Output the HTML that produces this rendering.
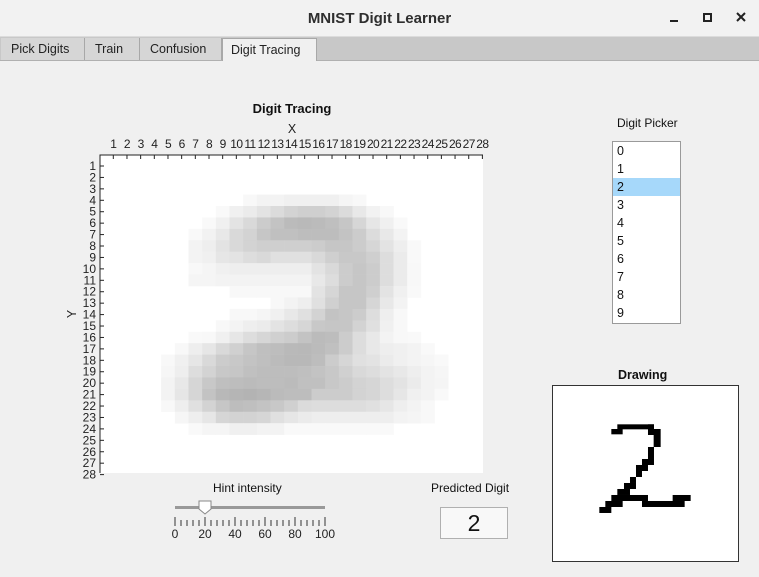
<!DOCTYPE html>
<html><head><meta charset="utf-8">
<style>
*{box-sizing:border-box}
body{margin:0;width:759px;height:577px;overflow:hidden;background:#f0f0f0;font-family:"Liberation Sans",sans-serif;position:relative}
.abs{position:absolute}
#titlebar{left:0;top:0;width:759px;height:37px;background:#f2f2f2;border-bottom:1px solid #dcdcdc}
#title{left:0;width:759px;top:10px;text-align:center;font-size:15px;font-weight:bold;color:#2e2e2e}
#tabstrip{left:0;top:37px;width:759px;height:24px;background:#c8c8c8;border-bottom:1px solid #b0b0b0}
.tab{top:38px;height:22px;font-size:12.5px;color:#222;padding-top:4px;padding-left:10px;border-right:1px solid #a8a8a8;background:#d6d6d6}
.tab.active{background:#f0f0f0;height:23px;border:1px solid #a8a8a8;border-bottom:none}
.lbl{font-size:12px;color:#111}
#listbox{left:612px;top:141px;width:69px;height:183px;background:#fff;border:1px solid #9a9a9a}
.item{position:absolute;left:0;width:67px;height:18px;font-size:12.5px;padding-left:4px;padding-top:2px;color:#111}
.item.sel{background:#a6d8fa}
#pred{left:440px;top:507px;width:68px;height:32px;background:#f8f8f8;border:1px solid #b0b0b0;text-align:center;font-size:23px;padding-top:2px;color:#111}
#drawbox{left:552px;top:385px;width:187px;height:177px;background:#fff;border:1px solid #333}
</style></head>
<body>
<div class="abs" id="titlebar"></div>
<div class="abs" id="title">MNIST Digit Learner</div>
<svg class="abs" style="left:665px;top:8px" width="90" height="20">
 <rect x="5" y="12" width="8" height="2" fill="#222"/>
 <rect x="39" y="6" width="7" height="7" fill="none" stroke="#222" stroke-width="2"/>
 <path d="M72 5 L80 13 M80 5 L72 13" stroke="#222" stroke-width="2"/>
</svg>
<div class="abs" id="tabstrip"></div>
<div class="abs tab" style="left:1px;width:84px">Pick Digits</div>
<div class="abs tab" style="left:85px;width:55px">Train</div>
<div class="abs tab" style="left:140px;width:82px">Confusion</div>
<div class="abs tab active" style="left:222px;width:95px;padding-left:8px">Digit Tracing</div>

<svg class="abs" style="left:0;top:0" width="759" height="577" id="chart">
 <text x="292" y="113" text-anchor="middle" font-size="13" font-weight="bold" fill="#111">Digit Tracing</text>
 <text x="292" y="133" text-anchor="middle" font-size="12.5" fill="#222">X</text>
 <text x="76" y="314" text-anchor="middle" font-size="12.5" fill="#222" transform="rotate(-90 76 314)">Y</text>
 <rect x="100" y="155" width="383" height="318" fill="#fff"/>
 <g id="cells"></g>
 <g id="ticks"></g>
 <path d="M100 473 L100 155 L483 155" fill="none" stroke="#222" stroke-width="1"/>
</svg>

<div class="abs lbl" style="left:617px;top:116px">Digit Picker</div>
<div class="abs" id="listbox">
 <div class="item" style="top:0">0</div><div class="item" style="top:18px">1</div>
 <div class="item sel" style="top:36px">2</div>
 <div class="item" style="top:54px">3</div><div class="item" style="top:72px">4</div>
 <div class="item" style="top:90px">5</div><div class="item" style="top:108px">6</div>
 <div class="item" style="top:126px">7</div><div class="item" style="top:144px">8</div>
 <div class="item" style="top:162px">9</div>
</div>

<div class="abs" style="left:618px;top:368px;font-size:12.5px;font-weight:bold;color:#111">Drawing</div>
<div class="abs" id="drawbox">
<svg width="187" height="177" style="position:absolute;left:-1px;top:-1px">
<g transform="scale(0.3333)" fill="#000">
 <rect x="178" y="132" width="34" height="16"/>
 <rect x="196" y="118" width="110" height="15"/>
 <rect x="288" y="118" width="18" height="32"/>
 <rect x="305" y="132" width="21" height="54"/>
 <rect x="288" y="186" width="18" height="36"/>
 <rect x="270" y="222" width="36" height="18"/>
 <rect x="252" y="240" width="36" height="18"/>
 <rect x="252" y="258" width="18" height="18"/>
 <rect x="234" y="276" width="18" height="18"/>
 <rect x="216" y="294" width="36" height="18"/>
 <rect x="196" y="312" width="38" height="18"/>
 <rect x="178" y="330" width="110" height="18"/>
 <rect x="160" y="348" width="52" height="18"/>
 <rect x="142" y="366" width="36" height="18"/>
 <rect x="270" y="348" width="128" height="18"/>
 <rect x="362" y="330" width="54" height="18"/>
</g></svg></div>

<div class="abs lbl" style="left:213px;top:481px">Hint intensity</div>
<svg class="abs" style="left:165px;top:498px" width="175" height="45" id="slider">
 <rect x="10" y="8" width="150" height="3" fill="#999"/>
 <path d="M34 3 L46 3 L46 11 L40 16 L34 11 Z" fill="#fff" stroke="#888"/>
 <g id="sticks"></g>
</svg>

<div class="abs lbl" style="left:431px;top:481px">Predicted Digit</div>
<div class="abs" id="pred">2</div>

<script>
// heatmap data: per row (1..28) the first painted column and gray values (0-255)
const rowStart = [0,0,0,11,9,8,7,7,7,7,7,10,13,10,9,7,6,5,5,5,5,5,6,7,0,0,0,0];
const rowGray = [
 [],[],[],
 [0xf8,0xf3,0xf3,0xf0,0xf0,0xf0,0xf0,0xf5,0xf8],
 [0xf9,0xf0,0xeb,0xe3,0xdb,0xd3,0xcf,0xcf,0xd3,0xdb,0xe8,0xf2,0xf8],
 [0xf9,0xf0,0xe3,0xd9,0xcc,0xc3,0xbb,0xb9,0xbb,0xbf,0xc6,0xd6,0xe6,0xf0,0xf9],
 [0xf9,0xf2,0xe8,0xd9,0xd3,0xc6,0xc0,0xc0,0xbd,0xbd,0xbd,0xc3,0xcc,0xdc,0xe8,0xf3],
 [0xf3,0xee,0xe3,0xd9,0xd3,0xcf,0xcf,0xcf,0xcf,0xcc,0xc6,0xc6,0xcc,0xd6,0xe3,0xee,0xf9],
 [0xf3,0xf0,0xe6,0xe3,0xdd,0xd9,0xe0,0xe0,0xe0,0xd9,0xcf,0xc8,0xc8,0xcf,0xdd,0xeb,0xf9],
 [0xf8,0xf5,0xf0,0xee,0xee,0xee,0xee,0xee,0xee,0xe3,0xd9,0xcc,0xc6,0xcc,0xdd,0xeb,0xf8],
 [0xf5,0xf5,0xf3,0xf3,0xf3,0xf3,0xf3,0xf3,0xf3,0xe8,0xdd,0xcc,0xc6,0xcc,0xdd,0xeb,0xf8],
 [0xf8,0xf8,0xf8,0xf8,0xf8,0xf8,0xe3,0xd6,0xc6,0xc6,0xcf,0xe3,0xf0,0xf9],
 [0xf8,0xf3,0xee,0xe0,0xd0,0xc6,0xc6,0xd6,0xe8,0xf3],
 [0xf8,0xf8,0xf5,0xf0,0xe8,0xe0,0xd3,0xc3,0xc6,0xcc,0xdd,0xee,0xf8],
 [0xf8,0xf3,0xee,0xeb,0xe3,0xdd,0xd6,0xc8,0xc6,0xc6,0xd3,0xe0,0xf0,0xf8],
 [0xf9,0xf8,0xf0,0xe6,0xdd,0xd6,0xd0,0xcc,0xc3,0xbb,0xbd,0xcc,0xdd,0xe8,0xf3,0xf8,0xf9],
 [0xf8,0xee,0xe6,0xd9,0xd0,0xc6,0xbf,0xbd,0xb9,0xb8,0xbb,0xc0,0xcc,0xdd,0xe8,0xee,0xf0,0xf3,0xf9],
 [0xf8,0xf0,0xe6,0xd9,0xcc,0xc8,0xc3,0xbf,0xbb,0xb8,0xb8,0xbd,0xcc,0xd6,0xe0,0xe3,0xeb,0xf0,0xf3,0xf6,0xf9],
 [0xf6,0xee,0xdd,0xd3,0xc8,0xc6,0xc0,0xbd,0xbd,0xbd,0xbf,0xc3,0xc8,0xd0,0xd9,0xdd,0xe3,0xe8,0xee,0xf3,0xf6],
 [0xf3,0xe8,0xd6,0xc8,0xbf,0xbd,0xbb,0xbd,0xbd,0xbb,0xc0,0xc0,0xc8,0xcc,0xd3,0xd6,0xdd,0xe3,0xeb,0xf3,0xf5],
 [0xf3,0xe6,0xd6,0xc3,0xb8,0xb5,0xb3,0xb6,0xbb,0xbd,0xbd,0xcc,0xcc,0xcc,0xd3,0xd6,0xdd,0xe6,0xf0,0xf3,0xf9],
 [0xf8,0xee,0xe0,0xd3,0xc6,0xbd,0xbf,0xc3,0xc8,0xd0,0xdb,0xdd,0xdd,0xdd,0xdd,0xe0,0xe6,0xee,0xf3,0xf8],
 [0xf6,0xee,0xe6,0xd6,0xd3,0xd3,0xd6,0xe0,0xe6,0xeb,0xee,0xee,0xee,0xee,0xee,0xee,0xf3,0xf5,0xf8],
 [0xf9,0xf5,0xf5,0xf0,0xf0,0xf3,0xf3,0xf9,0xf9,0xf9,0xf9,0xf9,0xf9,0xf9,0xf9],
 [],[],[],[]
];
const xTicks = [1,2,3,4,5,6,7,8,9,10,11,12,13,14,15,16,17,18,19,20,21,22,23,24,25,26,27,28];
const yTicks = [1,2,3,4,5,6,7,8,9,10,11,12,13,14,15,16,17,18,19,20,21,22,23,24,25,26,27,28];
const sliderTicks = [0,20,40,60,80,100];
const sliderValue = 20;

const NS = 'http://www.w3.org/2000/svg';
const xs = c => 113.3 + 13.67*(c-1);
const ys = r => 166 + 11.43*(r-1);
const cw = 13.67, ch = 11.43;
const cells = document.getElementById('cells');
rowGray.forEach((row, ri) => {
  row.forEach((g, k) => {
    const col = rowStart[ri] + k;
    const r = document.createElementNS(NS,'rect');
    r.setAttribute('x', (xs(col)-cw/2).toFixed(2));
    r.setAttribute('y', (ys(ri+1)-ch/2).toFixed(2));
    r.setAttribute('width', (cw+0.3).toFixed(2));
    r.setAttribute('height', (ch+0.3).toFixed(2));
    r.setAttribute('fill', `rgb(${g},${g},${g})`);
    
    
    cells.appendChild(r);
  });
});
const ticks = document.getElementById('ticks');
xTicks.forEach(t => {
  const x = xs(t);
  const l = document.createElementNS(NS,'line');
  l.setAttribute('x1',x);l.setAttribute('x2',x);l.setAttribute('y1',155);l.setAttribute('y2',159);
  l.setAttribute('stroke','#222');
  
  
  ticks.appendChild(l);
  const tx = document.createElementNS(NS,'text');
  tx.setAttribute('x',x);tx.setAttribute('y',148);tx.setAttribute('text-anchor','middle');
  tx.setAttribute('font-size','12');tx.setAttribute('fill','#222');
  tx.setAttribute('letter-spacing','-0.6');
  tx.textContent = t;
  
  
  ticks.appendChild(tx);
});
yTicks.forEach(t => {
  const y = ys(t);
  const l = document.createElementNS(NS,'line');
  l.setAttribute('x1',100);l.setAttribute('x2',104);l.setAttribute('y1',y);l.setAttribute('y2',y);
  l.setAttribute('stroke','#222');
  
  
  ticks.appendChild(l);
  const tx = document.createElementNS(NS,'text');
  tx.setAttribute('x',96);tx.setAttribute('y',y+4);tx.setAttribute('text-anchor','end');
  tx.setAttribute('font-size','12');tx.setAttribute('fill','#222');
  tx.textContent = t;
  
  
  ticks.appendChild(tx);
});
// slider
const sx = v => 10 + v*1.5;
const sticks = document.getElementById('sticks');
for (let v = 0; v <= 100; v += 4) {
  const major = sliderTicks.includes(v);
  const l = document.createElementNS(NS,'line');
  l.setAttribute('x1',sx(v));l.setAttribute('x2',sx(v));
  l.setAttribute('y1', major ? 19 : 22);l.setAttribute('y2',28);
  l.setAttribute('stroke','#333');
  
  
  sticks.appendChild(l);
}
sliderTicks.forEach(v => {
  const tx = document.createElementNS(NS,'text');
  tx.setAttribute('x',sx(v));tx.setAttribute('y',40);tx.setAttribute('text-anchor','middle');
  tx.setAttribute('font-size','12');tx.setAttribute('fill','#222');
  tx.textContent = v;
  
  
  sticks.appendChild(tx);
});
document.querySelector('#slider path').setAttribute('transform', `translate(${sx(sliderValue)-40},0)`);
</script>
</body></html>
